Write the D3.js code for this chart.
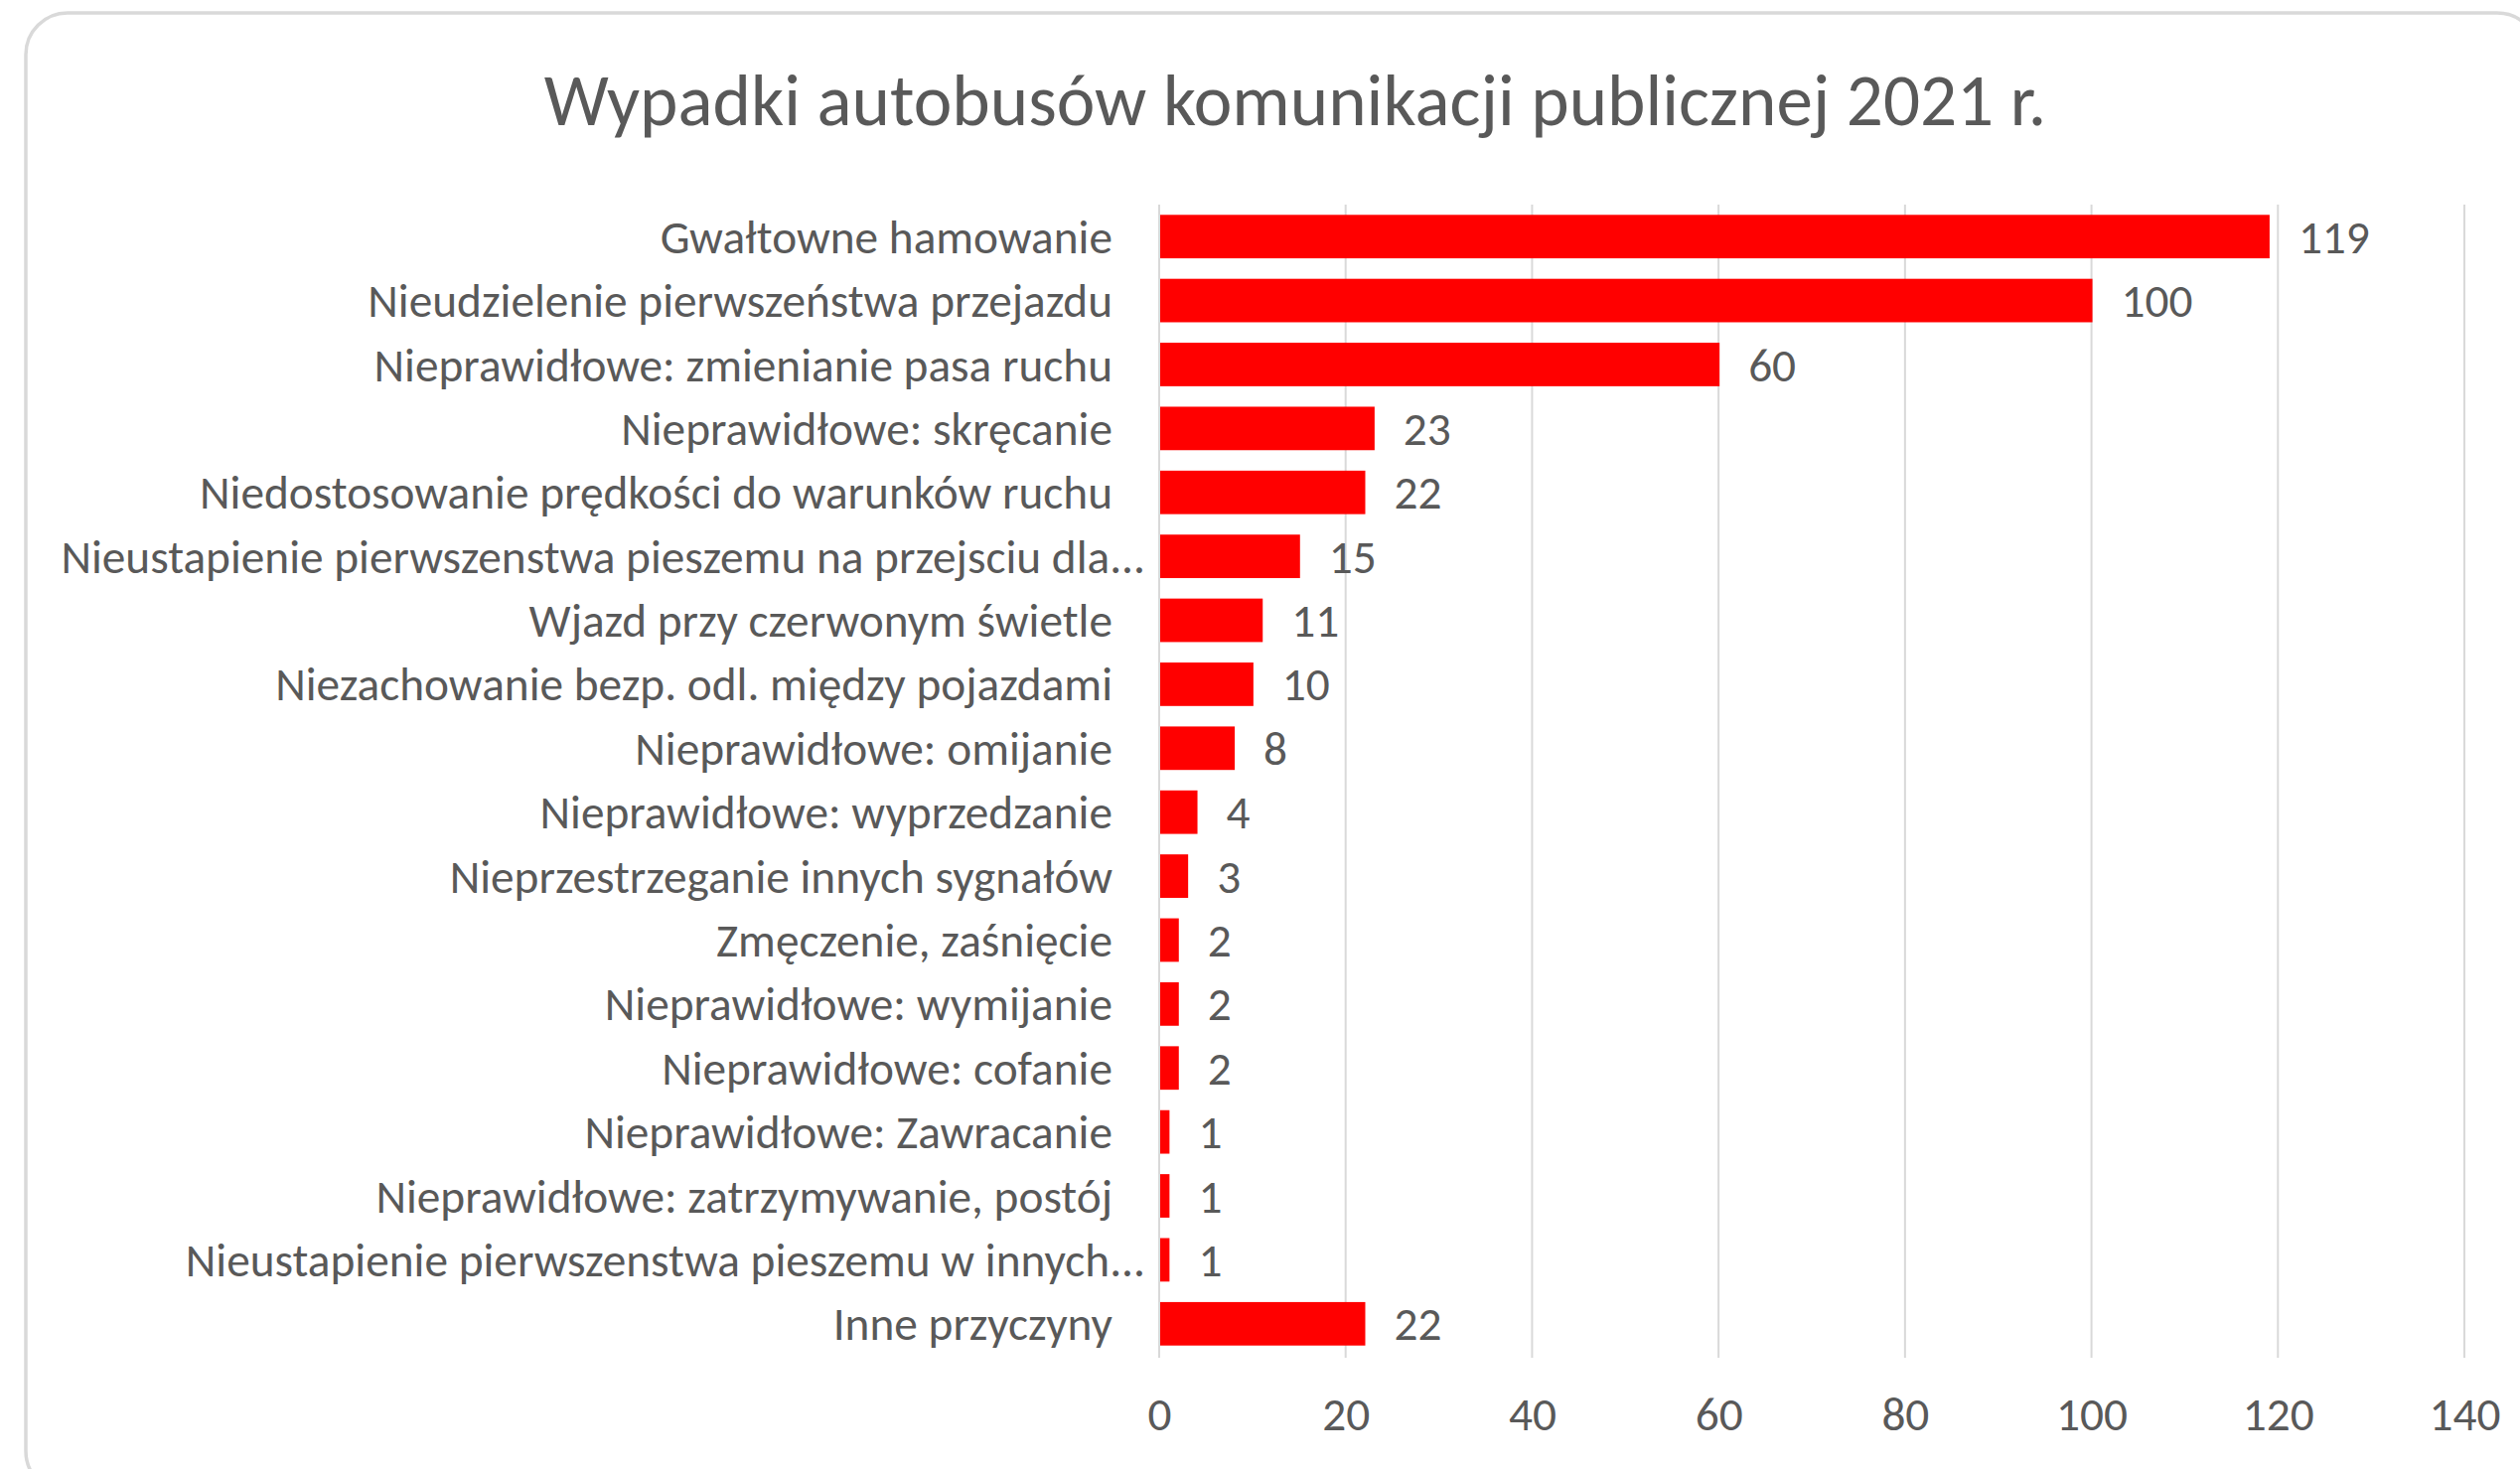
<!DOCTYPE html>
<html>
<head>
<meta charset="utf-8">
<script src="https://cdn.jsdelivr.net/npm/d3@7"></script>
<style>
  html, body { margin: 0; padding: 0; background: #fff; }
  text { font-family: Carlito, Calibri, "Liberation Sans Narrow", "Open Sans", sans-serif; fill: #595959; }
</style>
</head>
<body>
<div id="container"></div>
<script>

// data
const categories = [
  "Gwałtowne hamowanie",
  "Nieudzielenie pierwszeństwa przejazdu",
  "Nieprawidłowe: zmienianie pasa ruchu",
  "Nieprawidłowe: skręcanie",
  "Niedostosowanie prędkości do warunków ruchu",
  "Nieustapienie pierwszenstwa pieszemu na przejsciu dla...",
  "Wjazd przy czerwonym świetle",
  "Niezachowanie bezp. odl. między pojazdami",
  "Nieprawidłowe: omijanie",
  "Nieprawidłowe: wyprzedzanie",
  "Nieprzestrzeganie innych sygnałów",
  "Zmęczenie, zaśnięcie",
  "Nieprawidłowe: wymijanie",
  "Nieprawidłowe: cofanie",
  "Nieprawidłowe: Zawracanie",
  "Nieprawidłowe: zatrzymywanie, postój",
  "Nieustapienie pierwszenstwa pieszemu w innych...",
  "Inne przyczyny"
];
const values = [119, 100, 60, 23, 22, 15, 11, 10, 8, 4, 3, 2, 2, 2, 1, 1, 1, 22];
const xTicks = [0, 20, 40, 60, 80, 100, 120, 140];
const title = "Wypadki autobusów komunikacji publicznej 2021 r.";

const data = categories.map((c, i) => ({ name: c, value: values[i] }));

const width = 2537, height = 1479;

const svg = d3.create("svg")
    .attr("width", width)
    .attr("height", height);

// chart card
svg.append("rect")
    .attr("x", 26).attr("y", 13)
    .attr("width", 2530).attr("height", 1490)
    .attr("rx", 42)
    .attr("fill", "#fff")
    .attr("stroke", "#d9d9d9")
    .attr("stroke-width", 3.5);

const x = d3.scaleLinear().domain([0, 140]).range([1167, 2481]);
const y = d3.scaleBand().domain(categories).range([206, 1365]).paddingInner(0.32).paddingOuter(0.16);

// gridlines
svg.append("g").selectAll("line").data(xTicks).enter().append("line")
    .attr("x1", d => x(d)).attr("x2", d => x(d))
    .attr("y1", 206).attr("y2", 1367)
    .attr("stroke", "#d9d9d9")
    .attr("stroke-width", 2);

// bars
svg.append("g").selectAll("rect").data(data).enter().append("rect")
    .attr("x", x(0) + 1)
    .attr("y", d => y(d.name))
    .attr("width", d => x(d.value) - x(0))
    .attr("height", y.bandwidth())
    .attr("fill", "#ff0000");

// category labels (excel lets the truncated ones hang a bit further right)
let labelSize = 46;
const truncated = d => d.name.endsWith("...");
const labels = svg.append("g").selectAll("text").data(data).enter().append("text")
    .attr("x", d => truncated(d) ? 1153 : 1120)
    .attr("y", d => y(d.name) + y.bandwidth() / 2)
    .attr("dy", "0.35em")
    .attr("text-anchor", "end")
    .style("font-size", labelSize + "px")
    .text(d => d.name);

// value labels
const vals = svg.append("g").selectAll("text").data(data).enter().append("text")
    .attr("x", d => x(d.value) + 30)
    .attr("y", d => y(d.name) + y.bandwidth() / 2)
    .attr("dy", "0.35em")
    .style("font-size", labelSize + "px")
    .text(d => d.value);

// x axis
const axis = svg.append("g")
    .attr("transform", "translate(0,1405)")
    .call(d3.axisBottom(x).tickValues(xTicks).tickSize(0).tickPadding(0));
axis.select(".domain").remove();
axis.selectAll("text")
    .attr("dy", "0.35em")
    .attr("y", 18)
    .style("font-size", labelSize + "px")
    .style("font-family", null)
    .attr("fill", null);

// title
const t = svg.append("text")
    .attr("x", 1304)
    .attr("y", 100)
    .attr("dy", "0.35em")
    .attr("text-anchor", "middle")
    .style("font-size", "70px")
    .text(title);

container.append(svg.node());

// fit font sizes to the widths measured on the reference
const longest = d3.max(labels.nodes(), n => n.getComputedTextLength());
labelSize = labelSize * 1092 / longest;
labels.style("font-size", labelSize + "px");
vals.style("font-size", labelSize + "px");
axis.selectAll("text").style("font-size", labelSize + "px");
const tw = t.node().getComputedTextLength();
t.style("font-size", (70 * 1513 / tw) + "px");

</script>
</body>
</html>
